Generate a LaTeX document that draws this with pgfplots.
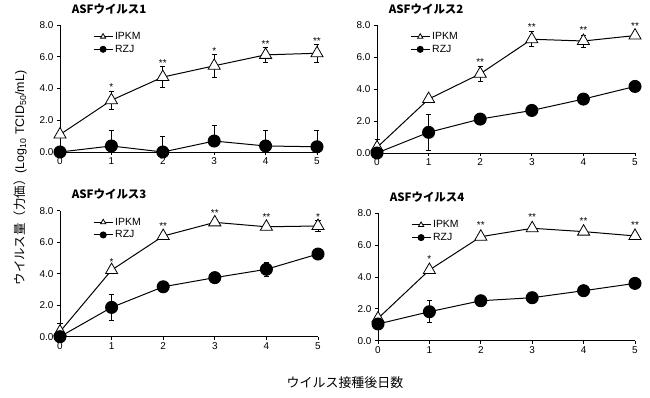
\documentclass[border=0pt]{standalone}
\usepackage{pgfplots}
\pgfplotsset{compat=1.18}
\usepackage{fontspec}
\setmainfont{Liberation Sans}
\newfontfamily\jp{Noto Sans CJK JP}

\pgfplotsset{
  panel/.style={
    scale only axis, width=257bp, height=127bp,
    xmin=0, xmax=5, ymin=0, ymax=8,
    clip=false,
    axis x line*=bottom, axis y line*=left,
    axis line style={-, line width=0.8bp},
    xtick={0,...,5}, ytick={0,2,4,6,8},
    tick align=outside, major tick length=3bp,
    tick style={black, line width=0.8bp},
    yticklabel style={/pgf/number format/.cd, fixed, fixed zerofill, precision=1},
    /pgf/number format/assume math mode=true,
    ticklabel style={font=\fontsize{10}{11}\selectfont},
    xticklabel style={yshift=1bp},
    title style={at={(0.045,1)}, anchor=south west, yshift=5bp, inner sep=0pt, font=\jp\bfseries\fontsize{11.5}{12}\selectfont},
    legend style={draw=none, fill=none, at={(0.128,0.96)}, anchor=north west, font=\fontsize{10.5}{11}\selectfont, row sep=0bp, inner xsep=0pt, inner ysep=0pt},
    legend cell align=left,
    legend image code/.code={\draw[mark repeat=2,mark phase=2,#1, mark size=3bp] plot coordinates {(0bp,0bp) (9.5bp,0bp) (19bp,0bp)};},
  },
  ipkm/.style={black, line width=1bp, mark=triangle*, mark size=7bp, mark options={fill=white, line width=0.8bp},
    error bars/.cd, y dir=both, y explicit, error bar style={line width=0.8bp, black}, error mark options={rotate=90, mark size=2.5bp, line width=0.8bp, black}},
  rzj/.style={black, line width=1bp, mark=*, mark size=6bp, mark options={fill=black},
    error bars/.cd, y dir=both, y explicit, error bar style={line width=0.8bp, black}, error mark options={rotate=90, mark size=2.5bp, line width=0.8bp, black}},
  stars/.style={draw=none, mark=none, nodes near coords, point meta=explicit symbolic,
    every node near coord/.style={anchor=center, yshift=-2bp, inner sep=0pt, font=\fontsize{10}{11}\selectfont}},
}

\begin{document}
\begin{tikzpicture}
\useasboundingbox (0,0) rectangle (650bp,-398bp);

% Panel 1
\begin{axis}[panel, at={(60bp,-152bp)}, anchor=south west, title={ASFウイルス1}]
\addplot[ipkm] coordinates {(0,1.1) +- (0,0.15) (1,3.26) +- (0,0.58) (2,4.72) +- (0,0.66) (3,5.43) +- (0,0.73) (4,6.12) +- (0,0.5) (5,6.22) +- (0,0.55)};
\addlegendentry{IPKM}
\addplot[rzj] coordinates {(0,0) += (0,0) -= (0,0) (1,0.38) += (0,1.0) -= (0,0) (2,0) += (0,1.0) -= (0,0) (3,0.69) += (0,1.0) -= (0,0) (4,0.38) += (0,1.0) -= (0,0) (5,0.33) += (0,1.0) -= (0,0)};
\addlegendentry{RZJ}
\addplot[stars] coordinates {(1,4.24)[*] (2,5.7)[**] (3,6.49)[*] (4,6.95)[**] (5,7.1)[**]};
\end{axis}

% Panel 2
\begin{axis}[panel, at={(377bp,-153bp)}, anchor=south west, width=258bp, height=128bp, title={ASFウイルス2}]
\addplot[ipkm] coordinates {(0,0.35) += (0,0.5) -= (0,0) (1,3.37) +- (0,0) (2,4.95) +- (0,0.45) (3,7.11) +- (0,0.47) (4,7.0) +- (0,0.38) (5,7.34) +- (0,0.15)};
\addlegendentry{IPKM}
\addplot[rzj] coordinates {(0,0) +- (0,0) (1,1.29) +- (0,1.15) (2,2.12) +- (0,0) (3,2.66) +- (0,0) (4,3.37) +- (0,0) (5,4.16) +- (0,0)};
\addlegendentry{RZJ}
\addplot[stars] coordinates {(2,5.78)[**] (3,8.0)[**] (4,7.8)[**] (5,8.07)[**]};
\end{axis}

% Panel 3
\begin{axis}[panel, at={(60bp,-336.7bp)}, anchor=south west, width=258bp, height=126bp, title={ASFウイルス3}]
\addplot[ipkm] coordinates {(0,0.32) += (0,0.53) -= (0,0) (1,4.23) +- (0,0) (2,6.39) +- (0,0) (3,7.26) +- (0,0.2) (4,6.98) +- (0,0) (5,7.03) +- (0,0.35)};
\addlegendentry{IPKM}
\addplot[rzj] coordinates {(0,0) +- (0,0) (1,1.86) +- (0,0.8) (2,3.17) +- (0,0) (3,3.75) +- (0,0) (4,4.28) +- (0,0.43) (5,5.25) +- (0,0)};
\addlegendentry{RZJ}
\addplot[stars] coordinates {(1,4.87)[*] (2,7.13)[**] (3,8.0)[**] (4,7.72)[**] (5,7.72)[*]};
\end{axis}

% Panel 4
\begin{axis}[panel, at={(378bp,-340.7bp)}, anchor=south west, width=257bp, height=127.4bp, title={ASFウイルス4}]
\addplot[ipkm] coordinates {(0,1.4) +- (0,0) (1,4.44) +- (0,0) (2,6.53) +- (0,0) (3,7.06) +- (0,0) (4,6.85) +- (0,0) (5,6.58) +- (0,0)};
\addlegendentry{IPKM}
\addplot[rzj] coordinates {(0,1.05) +- (0,0.3) (1,1.82) +- (0,0.68) (2,2.51) +- (0,0) (3,2.70) +- (0,0) (4,3.14) +- (0,0) (5,3.60) +- (0,0)};
\addlegendentry{RZJ}
\addplot[stars] coordinates {(1,5.28)[*] (2,7.37)[**] (3,7.9)[**] (4,7.62)[**] (5,7.37)[**]};
\end{axis}

\node[rotate=90, font=\fontsize{12.5}{14}\selectfont] at (20bp,-178bp) {{\jp ウイルス量（力価）}(Log\textsubscript{10} TCID\textsubscript{50}/mL)};
\node[font=\jp\fontsize{13}{15}\selectfont] at (345bp,-383bp) {ウイルス接種後日数};
\end{tikzpicture}
\end{document}
